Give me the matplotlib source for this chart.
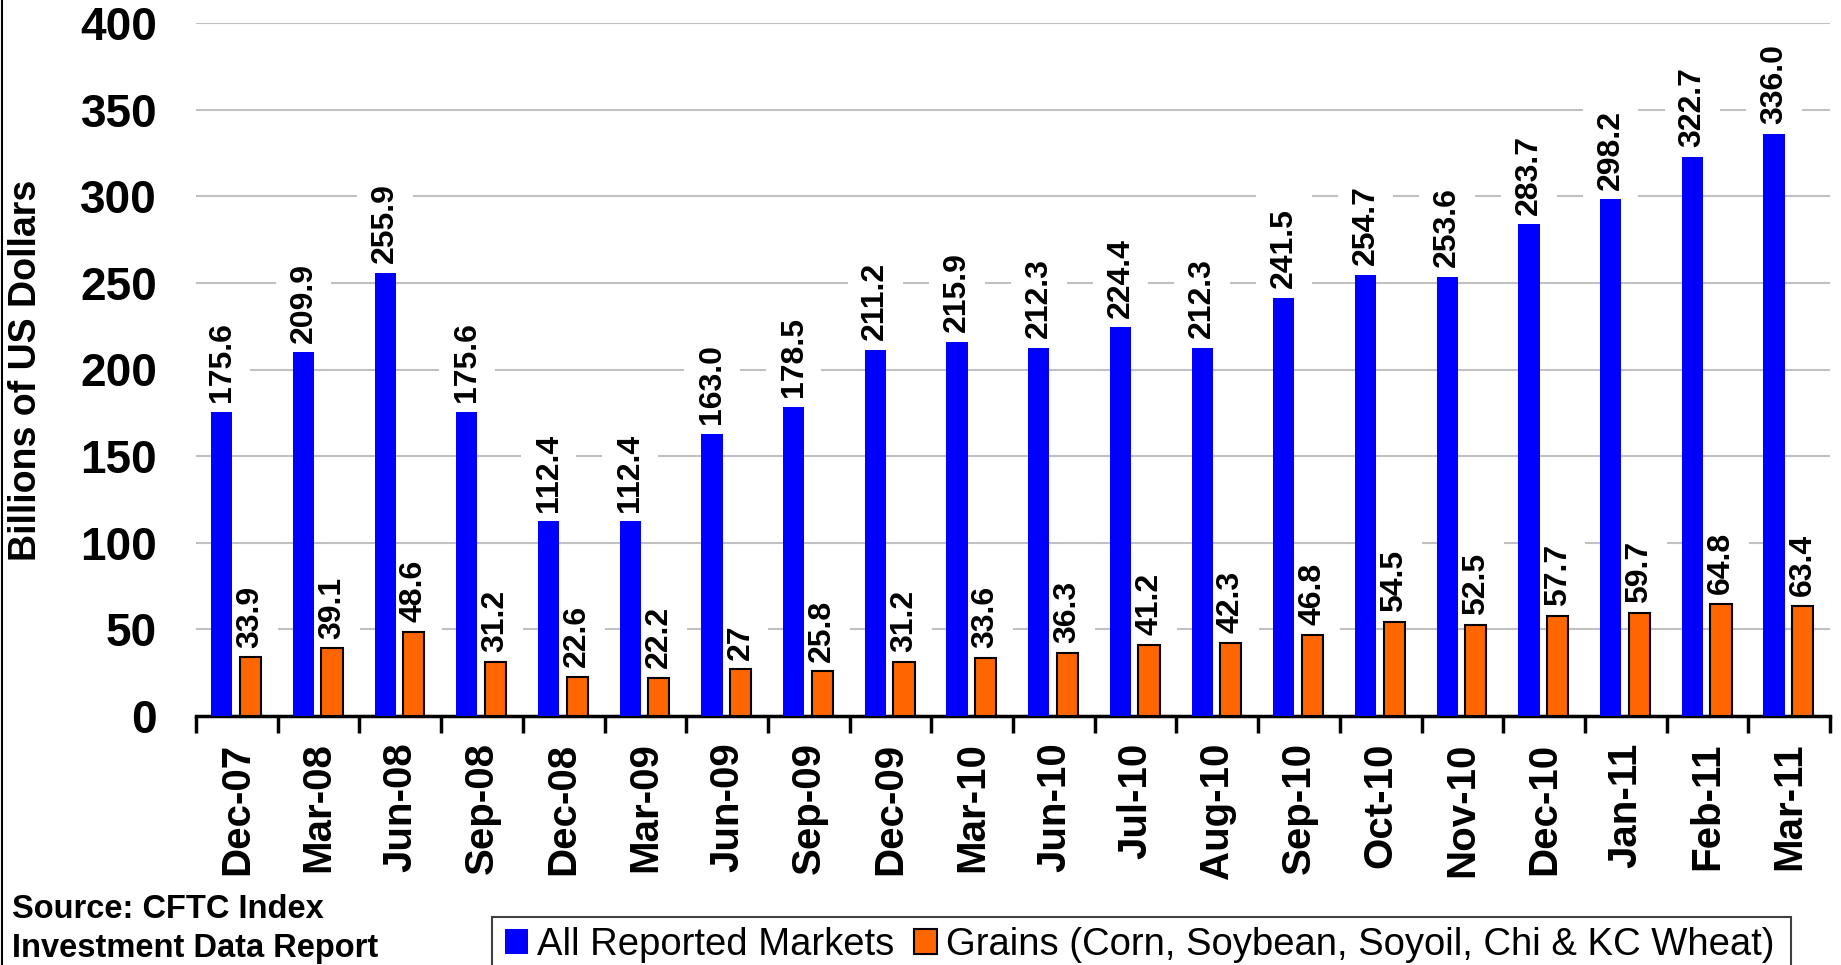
# CFTC index investment: all reported markets vs grains

import matplotlib
matplotlib.use('Agg')
import matplotlib.pyplot as plt
import numpy as np
from matplotlib.lines import Line2D
from matplotlib.patches import Rectangle

dates = ['Dec-07', 'Mar-08', 'Jun-08', 'Sep-08', 'Dec-08', 'Mar-09', 'Jun-09',
         'Sep-09', 'Dec-09', 'Mar-10', 'Jun-10', 'Jul-10', 'Aug-10', 'Sep-10',
         'Oct-10', 'Nov-10', 'Dec-10', 'Jan-11', 'Feb-11', 'Mar-11']
all_markets = [175.6, 209.9, 255.9, 175.6, 112.4, 112.4, 163.0, 178.5, 211.2, 215.9,
               212.3, 224.4, 212.3, 241.5, 254.7, 253.6, 283.7, 298.2, 322.7, 336.0]
grains = [33.9, 39.1, 48.6, 31.2, 22.6, 22.2, 27, 25.8, 31.2, 33.6,
          36.3, 41.2, 42.3, 46.8, 54.5, 52.5, 57.7, 59.7, 64.8, 63.4]
yticks = [0, 50, 100, 150, 200, 250, 300, 350, 400]

plt.rcParams['font.family'] = ['Liberation Sans', 'DejaVu Sans']

W, H = 1841, 965
fig = plt.figure(figsize=(W / 100, H / 100), dpi=100)
ax = fig.add_axes([196 / W, 1 - 716 / H, 1634 / W, 693 / H])

x = np.arange(len(dates))
w = 0.26
ax.bar(x - 0.185, all_markets, w, color='#0000FF', zorder=3,
       label='All Reported Markets')
ax.bar(x + 0.165, grains, w, color='#FF6600', edgecolor='black', linewidth=1.5,
       zorder=3, label='Grains (Corn, Soybean, Soyoil, Chi & KC Wheat)')

# value labels (white boxes hide the gridlines behind them)
box = dict(boxstyle='square,pad=0.4', fc='white', ec='none')
for xi, v in zip(x - 0.185, all_markets):
    ax.annotate(f'{v:.1f}', (xi, v), xytext=(0, 7), textcoords='offset points',
                rotation=90, ha='center', va='bottom', fontsize=23,
                fontweight='bold', zorder=2, bbox=box)
for xi, v in zip(x + 0.165, grains):
    ax.annotate(f'{v:g}', (xi, v), xytext=(0, 7), textcoords='offset points',
                rotation=90, ha='center', va='bottom', fontsize=23,
                fontweight='bold', zorder=2, bbox=box)

ax.set_xlim(-0.5, len(dates) - 0.5)
ax.set_ylim(0, 400)
ax.yaxis.grid(True, color='#C0C0C0', linewidth=1.5, zorder=0)
ax.set_axisbelow(True)
for s in ['left', 'right', 'top']:
    ax.spines[s].set_visible(False)
ax.spines['bottom'].set_linewidth(2.5)

ax.set_yticks(yticks, labels=[str(t) for t in yticks], fontsize=33, fontweight='bold')
ax.tick_params(axis='y', length=0, pad=28)
ax.set_xticks(x, labels=dates, rotation=90, fontsize=29, fontweight='bold')
ax.tick_params(axis='x', which='major', length=0, pad=19)
ax.set_xticks(np.arange(-0.5, len(dates), 1), minor=True)
ax.tick_params(axis='x', which='minor', length=12, width=2.5, direction='out')

fig.text(26 / W, 1 - 370 / H, 'Billions of US Dollars', rotation=90,
         ha='center', va='center', fontsize=27, fontweight='bold')

fig.text(12 / W, 1 - 910 / H, 'Source: CFTC Index', fontsize=23.5,
         fontweight='bold', va='center')
fig.text(12 / W, 1 - 949 / H, 'Investment Data Report', fontsize=23.5,
         fontweight='bold', va='center')

# legend frame runs off the bottom edge like the original
fig.add_artist(Rectangle((492 / W, -0.05), (1791 - 492) / W, 0.05 + (965 - 917) / H,
                         transform=fig.transFigure, fill=False,
                         edgecolor='#404040', linewidth=1.5))
fig.legend(loc='upper left', bbox_to_anchor=(505 / W, 1 - 927 / H), ncol=2,
           fontsize=27.5, frameon=False, handlelength=0.6, handleheight=0.6,
           handletextpad=0.25, columnspacing=0.5, borderpad=0, borderaxespad=0)

# chart border on the left edge
fig.add_artist(Line2D([0.001, 0.001], [0, 1], color='black', linewidth=1.5))

fig.savefig('out.png', dpi=100)
